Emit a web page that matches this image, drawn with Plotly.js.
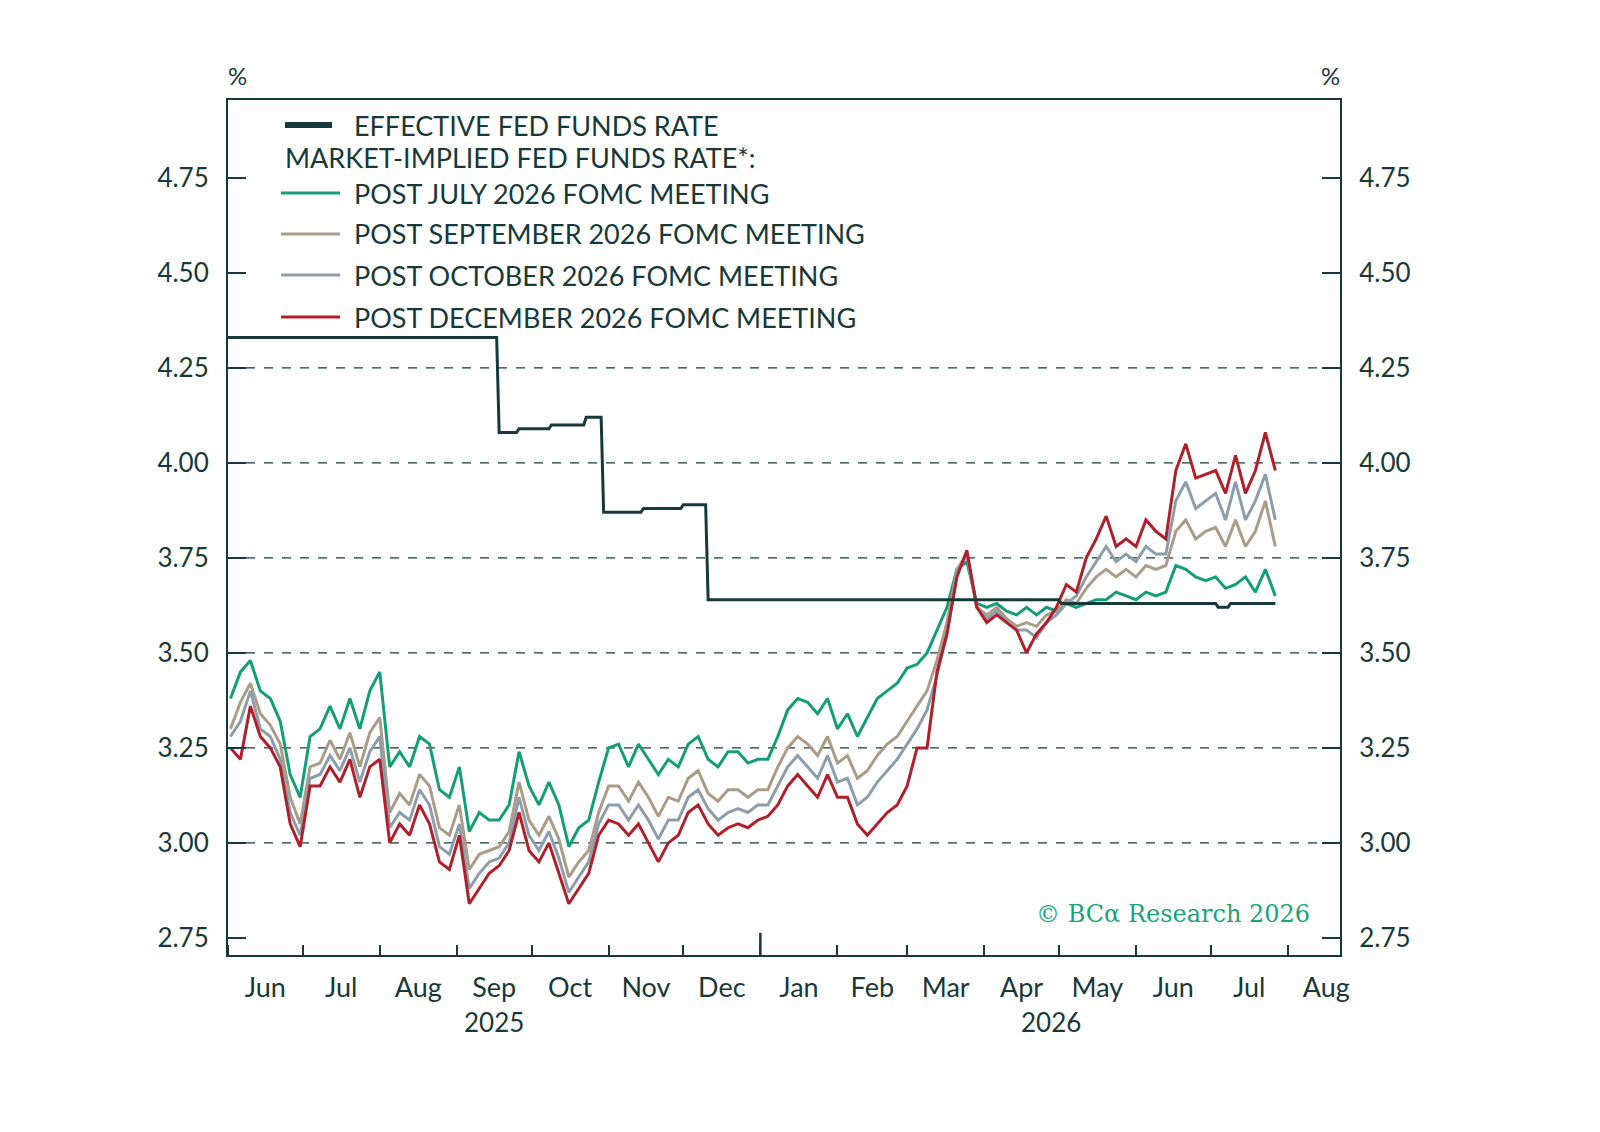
<!DOCTYPE html>
<html><head><meta charset="utf-8">
<script src="https://cdn.plot.ly/plotly-3.0.1.min.js"></script>
<style>body{margin:0;background:#fff}#c{width:1600px;height:1132px}</style>
</head><body><div id="c"></div>
<script>
// Market-implied series sampled every 4 days from 2025-06-02
const startDate = "2025-06-02";
const stepDays = 4;
const postJuly = [3.38,3.45,3.48,3.40,3.38,3.32,3.18,3.12,3.28,3.30,
3.36,3.30,3.38,3.30,3.40,3.45,3.20,3.24,3.20,3.28,
3.26,3.14,3.12,3.20,3.03,3.08,3.06,3.06,3.10,3.24,
3.15,3.10,3.16,3.10,2.99,3.04,3.06,3.16,3.25,3.26,
3.20,3.26,3.22,3.18,3.22,3.20,3.26,3.28,3.22,3.20,
3.24,3.24,3.21,3.22,3.22,3.28,3.35,3.38,3.37,3.34,
3.38,3.30,3.34,3.28,3.33,3.38,3.40,3.42,3.46,3.47,
3.50,3.56,3.62,3.72,3.74,3.63,3.62,3.63,3.61,3.60,
3.62,3.60,3.62,3.61,3.63,3.62,3.63,3.64,3.64,3.66,
3.65,3.64,3.66,3.65,3.66,3.73,3.72,3.70,3.69,3.70,
3.67,3.68,3.70,3.66,3.72,3.65];
const postSep = [3.30,3.37,3.42,3.34,3.31,3.26,3.12,3.05,3.20,3.21,
3.27,3.22,3.29,3.20,3.29,3.33,3.08,3.13,3.10,3.18,
3.15,3.04,3.02,3.10,2.93,2.97,2.98,2.99,3.03,3.16,
3.06,3.02,3.07,3.01,2.91,2.95,2.98,3.08,3.15,3.15,
3.11,3.16,3.12,3.07,3.12,3.11,3.17,3.19,3.13,3.11,
3.14,3.14,3.12,3.14,3.14,3.20,3.25,3.28,3.26,3.23,
3.28,3.21,3.23,3.17,3.19,3.23,3.26,3.28,3.32,3.36,
3.40,3.48,3.58,3.72,3.76,3.62,3.60,3.62,3.59,3.57,
3.58,3.57,3.60,3.61,3.64,3.63,3.67,3.70,3.72,3.70,
3.72,3.70,3.73,3.72,3.73,3.82,3.85,3.80,3.82,3.83,
3.78,3.85,3.78,3.82,3.90,3.78];
const postOct = [3.28,3.32,3.40,3.30,3.28,3.22,3.08,3.02,3.17,3.18,
3.23,3.19,3.25,3.16,3.24,3.28,3.04,3.08,3.06,3.14,
3.10,2.99,2.97,3.05,2.88,2.92,2.95,2.96,3.00,3.12,
3.02,2.98,3.03,2.96,2.87,2.91,2.95,3.05,3.10,3.10,
3.06,3.10,3.06,3.01,3.06,3.06,3.12,3.14,3.09,3.06,
3.08,3.09,3.08,3.10,3.10,3.15,3.20,3.23,3.20,3.17,
3.23,3.16,3.17,3.10,3.12,3.16,3.19,3.22,3.26,3.30,
3.35,3.44,3.55,3.71,3.76,3.62,3.59,3.61,3.58,3.56,
3.56,3.54,3.58,3.60,3.63,3.65,3.70,3.74,3.78,3.74,
3.76,3.74,3.78,3.76,3.76,3.90,3.95,3.88,3.90,3.92,
3.85,3.95,3.85,3.90,3.97,3.85];
const postDec = [3.25,3.22,3.36,3.28,3.25,3.20,3.05,2.99,3.15,3.15,
3.20,3.16,3.22,3.12,3.20,3.22,3.00,3.05,3.02,3.10,
3.05,2.95,2.93,3.02,2.84,2.88,2.92,2.94,2.98,3.08,
2.98,2.95,3.00,2.92,2.84,2.88,2.92,3.02,3.06,3.05,
3.02,3.05,3.00,2.95,3.00,3.02,3.08,3.10,3.05,3.02,
3.04,3.05,3.04,3.06,3.07,3.10,3.15,3.18,3.15,3.12,
3.18,3.12,3.12,3.05,3.02,3.05,3.08,3.10,3.15,3.25,
3.25,3.45,3.55,3.70,3.77,3.62,3.58,3.60,3.58,3.56,
3.50,3.55,3.58,3.62,3.68,3.66,3.75,3.80,3.86,3.78,
3.80,3.78,3.85,3.82,3.80,3.98,4.05,3.96,3.97,3.98,
3.92,4.02,3.92,3.98,4.08,3.98];
const effDates = ["2025-06-01","2025-09-17","2025-09-18","2025-09-25","2025-09-26","2025-10-08","2025-10-09","2025-10-22","2025-10-23","2025-10-29","2025-10-30","2025-11-14","2025-11-15","2025-11-30","2025-12-01","2025-12-10","2025-12-11","2026-05-01","2026-05-02","2026-07-03","2026-07-04","2026-07-08","2026-07-09","2026-07-27"];
const effRate  = [4.33,4.33,4.08,4.08,4.09,4.09,4.10,4.10,4.12,4.12,3.87,3.87,3.88,3.88,3.89,3.89,3.64,3.64,3.63,3.63,3.62,3.62,3.63,3.63];
const yTicks = [2.75,3.00,3.25,3.50,3.75,4.00,4.25,4.50,4.75];
const gridVals = [3.00,3.25,3.50,3.75,4.00,4.25];
const legendLabels = ["EFFECTIVE FED FUNDS RATE","MARKET-IMPLIED FED FUNDS RATE*:","POST JULY 2026 FOMC MEETING","POST SEPTEMBER 2026 FOMC MEETING","POST OCTOBER 2026 FOMC MEETING","POST DECEMBER 2026 FOMC MEETING"];

const dates = postJuly.map((_, i) => {
  const d = new Date(startDate + "T00:00:00Z"); d.setUTCDate(d.getUTCDate() + i * stepDays);
  return d.toISOString().slice(0, 10);
});
const ink = "#17393a";
const cols = {eff: ink, jul: "#149e78", sep: "#ab9c88", oct: "#8c9dab", dec: "#b0202b"};
const F = "Lato, 'Open Sans', sans-serif";
const traces = [
  {x: dates, y: postJuly, mode: "lines", line: {color: cols.jul, width: 3}},
  {x: dates, y: postSep, mode: "lines", line: {color: cols.sep, width: 3}},
  {x: dates, y: postOct, mode: "lines", line: {color: cols.oct, width: 3}},
  {x: dates, y: postDec, mode: "lines", line: {color: cols.dec, width: 3}},
  {x: effDates, y: effRate, mode: "lines", line: {color: cols.eff, width: 3}},
  {x: dates, y: postJuly, yaxis: "y2", mode: "lines", line: {width: 0}, hoverinfo: "skip", opacity: 0}
].map(t => Object.assign({showlegend: false}, t));

const px = v => (v - 228) / 1112, py = v => (955 - v) / 855;
const shapes = gridVals.map(g => ({type: "line", xref: "paper", x0: 0, x1: 1, yref: "y", y0: g, y1: g, line: {color: ink, width: 1.3, dash: "dash"}, layer: "below"}));
const annotations = [];
const legY = [125, 158, 193, 234, 275, 317];
const legCol = [cols.eff, null, cols.jul, cols.sep, cols.oct, cols.dec];
legendLabels.forEach((t, i) => {
  annotations.push({xref: "paper", yref: "paper", x: px(i === 1 ? 283 : 352), y: py(legY[i]), text: t, showarrow: false, xanchor: "left", yanchor: "middle", font: {family: F, size: 27, color: ink}});
  if (legCol[i]) shapes.push({type: "line", xref: "paper", yref: "paper", x0: px(i === 0 ? 285 : 281), x1: px(i === 0 ? 332 : 340), y0: py(legY[i]), y1: py(legY[i]), line: {color: legCol[i], width: i === 0 ? 6 : 3}});
});
shapes.push({type: "line", xref: "x", yref: "paper", x0: "2026-01-01", x1: "2026-01-01", y0: 0, y1: 0.026, line: {color: ink, width: 2.5}});
const note = (x, y, text, extra) => Object.assign({xref: "paper", yref: "paper", x: px(x), y: py(y), text, showarrow: false, xanchor: "center", yanchor: "middle", font: {family: F, size: 26, color: ink}}, extra || {});
annotations.push(
  note(237, 75, "%", {font: {family: F, size: 24, color: ink}}),
  note(1330, 75, "%", {font: {family: F, size: 24, color: ink}}),
  note(494, 1022, "2025"),
  note(1051, 1022, "2026"),
  note(1312, 914, "© BCα Research 2026", {xanchor: "right", font: {family: "'DejaVu Serif', 'Liberation Serif', serif", size: 24, color: "#1aa37a"}})
);
const yax = {range: [2.705, 4.955], tickvals: yTicks, ticktext: yTicks.map(v => v.toFixed(2)), ticks: "inside", ticklen: 18, tickwidth: 1.5, tickcolor: ink, showgrid: false, zeroline: false, showline: true, linecolor: ink, linewidth: 2, tickfont: {family: F, size: 26, color: ink}, ticklabelstandoff: 12, fixedrange: true};
const layout = {
  width: 1600, height: 1132, paper_bgcolor: "#fff", plot_bgcolor: "#fff",
  margin: {l: 228, r: 260, t: 100, b: 177},
  xaxis: {type: "date", range: ["2025-06-01", "2026-08-22"], dtick: "M1", tick0: "2025-06-01", tickformat: "%b", ticklabelmode: "period", ticks: "inside", ticklen: 10, tickwidth: 2, tickcolor: ink, showgrid: false, showline: true, mirror: true, linecolor: ink, linewidth: 2, tickfont: {family: F, size: 27, color: ink}, ticklabelstandoff: 8},
  yaxis: yax,
  yaxis2: Object.assign({}, yax, {overlaying: "y", side: "right"}),
  shapes, annotations, showlegend: false
};
Plotly.newPlot("c", traces, layout, {staticPlot: true});
</script></body></html>
